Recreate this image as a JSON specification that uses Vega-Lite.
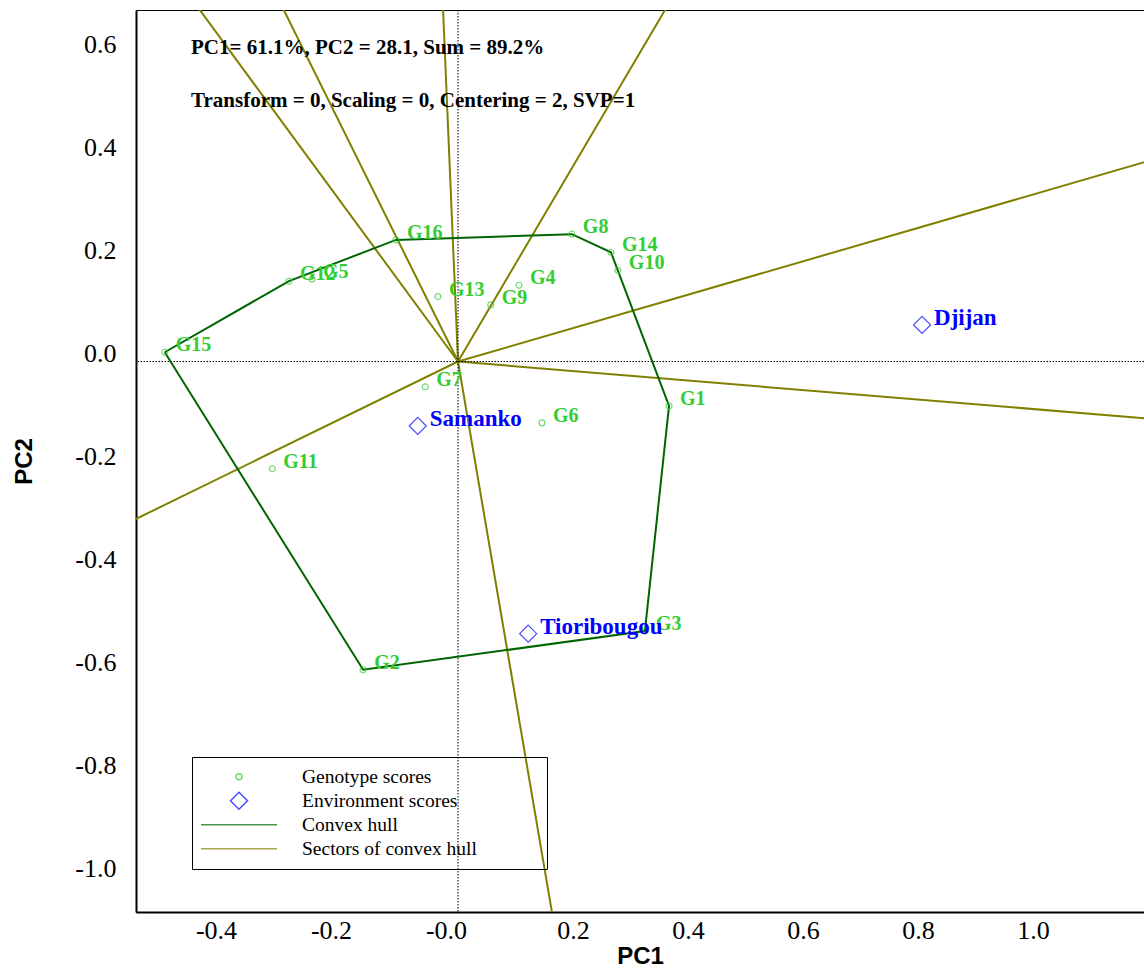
{
  "$schema": "https://vega.github.io/schema/vega-lite/v6.json",
  "width": 1008,
  "height": 902,
  "autosize": {"type": "none"},
  "padding": {"left": 136, "top": 10, "right": 0, "bottom": 56},
  "background": "white",
  "config": {
    "view": {"stroke": "#000", "strokeWidth": 1},
    "axis": {
      "grid": false,
      "ticks": false,
      "domainColor": "#000",
      "domainWidth": 2,
      "labelFont": "Liberation Serif",
      "labelFontSize": 26,
      "labelColor": "#000",
      "titleFont": "Liberation Sans",
      "titleFontWeight": "bold",
      "titleFontSize": 24,
      "titleColor": "#000"
    },
    "legend": {
      "labelFont": "Liberation Serif",
      "labelFontSize": 19.5,
      "labelColor": "#000",
      "labelLimit": 600,
      "symbolSize": 5776,
      "symbolStrokeWidth": 1.5,
      "clipHeight": 23.5,
      "rowPadding": 0,
      "labelOffset": 24,
      "padding": 8,
      "strokeColor": "#000"
    }
  },
  "datasets": {
    "genotypes": [
      {"label": "G1", "x": 0.367, "y": -0.086},
      {"label": "G2", "x": -0.165, "y": -0.598},
      {"label": "G3", "x": 0.325, "y": -0.523},
      {"label": "G4", "x": 0.106, "y": 0.148},
      {"label": "G5", "x": -0.254, "y": 0.160},
      {"label": "G6", "x": 0.146, "y": -0.119},
      {"label": "G7", "x": -0.057, "y": -0.049},
      {"label": "G8", "x": 0.198, "y": 0.247},
      {"label": "G9", "x": 0.057, "y": 0.110},
      {"label": "G10", "x": 0.278, "y": 0.177},
      {"label": "G11", "x": -0.323, "y": -0.208},
      {"label": "G12", "x": -0.294, "y": 0.156},
      {"label": "G13", "x": -0.035, "y": 0.126},
      {"label": "G14", "x": 0.266, "y": 0.212},
      {"label": "G15", "x": -0.510, "y": 0.018},
      {"label": "G16", "x": -0.108, "y": 0.236}
    ],
    "environments": [
      {"label": "Djijan", "x": 0.807, "y": 0.071},
      {"label": "Samanko", "x": -0.070, "y": -0.125},
      {"label": "Tioribougou", "x": 0.122, "y": -0.528}
    ],
    "hull": [
      {"order": 1, "x": -0.510, "y": 0.018},
      {"order": 2, "x": -0.294, "y": 0.156},
      {"order": 3, "x": -0.108, "y": 0.236},
      {"order": 4, "x": 0.198, "y": 0.247},
      {"order": 5, "x": 0.266, "y": 0.212},
      {"order": 6, "x": 0.367, "y": -0.086},
      {"order": 7, "x": 0.325, "y": -0.523},
      {"order": 8, "x": -0.165, "y": -0.598},
      {"order": 9, "x": -0.510, "y": 0.018}
    ],
    "rays": [
      {"ray": "R1", "x": 0, "y": 0}, {"ray": "R1", "x": -0.6735, "y": 1.023},
      {"ray": "R2", "x": 0, "y": 0}, {"ray": "R2", "x": -0.4545, "y": 1.023},
      {"ray": "R3", "x": 0, "y": 0}, {"ray": "R3", "x": -0.039, "y": 1.023},
      {"ray": "R4", "x": 0, "y": 0}, {"ray": "R4", "x": 0.54, "y": 1.023},
      {"ray": "R5", "x": 0, "y": 0}, {"ray": "R5", "x": 1.79, "y": 0.58},
      {"ray": "R6", "x": 0, "y": 0}, {"ray": "R6", "x": 1.79, "y": -0.165},
      {"ray": "R7", "x": 0, "y": 0}, {"ray": "R7", "x": 0.245, "y": -1.602},
      {"ray": "R8", "x": 0, "y": 0}, {"ray": "R8", "x": -0.84, "y": -0.458}
    ],
    "notes": [
      {"text": "PC1= 61.1%, PC2 = 28.1, Sum = 89.2%", "x": -0.4643, "y": 0.608},
      {"text": "Transform = 0, Scaling = 0, Centering = 2, SVP=1", "x": -0.4643, "y": 0.505}
    ],
    "legendItems": [
      {"series": "Genotype scores"},
      {"series": "Environment scores"},
      {"series": "Convex hull"},
      {"series": "Sectors of convex hull"}
    ]
  },
  "layer": [
    {
      "data": {"name": "rays"},
      "mark": {"type": "line", "color": "#808000", "strokeWidth": 2, "clip": true},
      "encoding": {
        "x": {
          "field": "x", "type": "quantitative",
          "scale": {"domain": [-0.56, 1.193], "nice": false, "zero": false},
          "axis": {
            "title": "PC1",
            "values": [-0.4, -0.2, 0, 0.2, 0.4, 0.6, 0.8, 1.0],
            "labelExpr": "datum.value == 0 ? '-0.0' : replace(format(datum.value, '.1f'), '\u2212', '-')",
            "labelPadding": 5,
            "titlePadding": 1,
            "labelOffset": {"condition": {"test": "datum.value <= 0", "value": -12}, "value": 0}
          }
        },
        "y": {
          "field": "y", "type": "quantitative",
          "scale": {"domain": [-1.068, 0.682], "nice": false, "zero": false},
          "axis": {
            "title": "PC2",
            "values": [0.6, 0.4, 0.2, 0, -0.2, -0.4, -0.6, -0.8, -1.0],
            "labelExpr": "replace(format(datum.value, '.1f'), '\u2212', '-')",
            "labelPadding": 20,
            "labelOffset": -8,
            "titlePadding": 38
          }
        },
        "detail": {"field": "ray", "type": "nominal"}
      }
    },
    {
      "data": {"values": [{"v": 0}]},
      "mark": {"type": "rule", "color": "#000", "strokeWidth": 1, "strokeDash": [1.5, 1.5]},
      "encoding": {
        "x": {"field": "v", "type": "quantitative", "scale": {"domain": [-0.56, 1.193], "nice": false, "zero": false}}
      }
    },
    {
      "data": {"values": [{"v": 0}]},
      "mark": {"type": "rule", "color": "#000", "strokeWidth": 1, "strokeDash": [1.5, 1.5]},
      "encoding": {
        "y": {"field": "v", "type": "quantitative", "scale": {"domain": [-1.068, 0.682], "nice": false, "zero": false}}
      }
    },
    {
      "data": {"name": "hull"},
      "mark": {"type": "line", "color": "#006400", "strokeWidth": 2},
      "encoding": {
        "x": {"field": "x", "type": "quantitative", "scale": {"domain": [-0.56, 1.193], "nice": false, "zero": false}},
        "y": {"field": "y", "type": "quantitative", "scale": {"domain": [-1.068, 0.682], "nice": false, "zero": false}},
        "order": {"field": "order", "type": "quantitative"}
      }
    },
    {
      "data": {"name": "genotypes"},
      "mark": {"type": "point", "shape": "circle", "filled": false, "size": 36, "color": "#33cc33", "strokeWidth": 1.2},
      "encoding": {
        "x": {"field": "x", "type": "quantitative", "scale": {"domain": [-0.56, 1.193], "nice": false, "zero": false}},
        "y": {"field": "y", "type": "quantitative", "scale": {"domain": [-1.068, 0.682], "nice": false, "zero": false}}
      }
    },
    {
      "data": {"name": "genotypes"},
      "mark": {"type": "text", "align": "left", "baseline": "middle", "dx": 11, "dy": -7, "font": "Liberation Serif", "fontWeight": "bold", "fontSize": 20, "color": "#33cc33"},
      "encoding": {
        "x": {"field": "x", "type": "quantitative", "scale": {"domain": [-0.56, 1.193], "nice": false, "zero": false}},
        "y": {"field": "y", "type": "quantitative", "scale": {"domain": [-1.068, 0.682], "nice": false, "zero": false}},
        "text": {"field": "label", "type": "nominal"}
      }
    },
    {
      "data": {"name": "environments"},
      "mark": {"type": "point", "shape": "diamond", "filled": false, "size": 290, "color": "#0000ff", "strokeWidth": 1.2},
      "encoding": {
        "x": {"field": "x", "type": "quantitative", "scale": {"domain": [-0.56, 1.193], "nice": false, "zero": false}},
        "y": {"field": "y", "type": "quantitative", "scale": {"domain": [-1.068, 0.682], "nice": false, "zero": false}}
      }
    },
    {
      "data": {"name": "environments"},
      "mark": {"type": "text", "align": "left", "baseline": "middle", "dx": 12, "dy": -7, "font": "Liberation Serif", "fontWeight": "bold", "fontSize": 23, "color": "#0000ff"},
      "encoding": {
        "x": {"field": "x", "type": "quantitative", "scale": {"domain": [-0.56, 1.193], "nice": false, "zero": false}},
        "y": {"field": "y", "type": "quantitative", "scale": {"domain": [-1.068, 0.682], "nice": false, "zero": false}},
        "text": {"field": "label", "type": "nominal"}
      }
    },
    {
      "data": {"name": "notes"},
      "mark": {"type": "text", "align": "left", "baseline": "middle", "font": "Liberation Serif", "fontWeight": "bold", "fontSize": 21, "color": "#000"},
      "encoding": {
        "x": {"field": "x", "type": "quantitative", "scale": {"domain": [-0.56, 1.193], "nice": false, "zero": false}},
        "y": {"field": "y", "type": "quantitative", "scale": {"domain": [-1.068, 0.682], "nice": false, "zero": false}},
        "text": {"field": "text", "type": "nominal"}
      }
    },
    {
      "data": {"name": "legendItems"},
      "transform": [{"filter": "false"}],
      "mark": {"type": "point", "filled": false, "size": 5776, "strokeWidth": 1.5},
      "encoding": {
        "color": {
          "field": "series", "type": "nominal",
          "scale": {
            "domain": ["Genotype scores", "Environment scores", "Convex hull", "Sectors of convex hull"],
            "range": ["#33cc33", "#0000ff", "#006400", "#808000"]
          },
          "legend": {
            "title": "\u00a0",
            "titleOrient": "right",
            "titlePadding": 62,
            "orient": "none",
            "legendX": 56,
            "legendY": 747,
            "strokeColor": "#000",
            "padding": 8,
            "labelOffset": 24,
            "labelLimit": 600,
            "clipHeight": 23.5,
            "rowPadding": 0,
            "symbolSize": 5776,
            "symbolStrokeWidth": 1.5
          }
        },
        "shape": {
          "field": "series", "type": "nominal",
          "scale": {
            "domain": ["Genotype scores", "Environment scores", "Convex hull", "Sectors of convex hull"],
            "range": [
              "M0.08,0A0.08,0.08,0,1,1,-0.08,0A0.08,0.08,0,1,1,0.08,0Z",
              "M0,-0.224L0.224,0L0,0.224L-0.224,0Z",
              "M-1,0L1,0",
              "M-1,0L1,0"
            ]
          },
          "legend": {
            "title": "\u00a0",
            "titleOrient": "right",
            "titlePadding": 62,
            "orient": "none",
            "legendX": 56,
            "legendY": 747,
            "strokeColor": "#000",
            "padding": 8,
            "labelOffset": 24,
            "labelLimit": 600,
            "clipHeight": 23.5,
            "rowPadding": 0,
            "symbolSize": 5776,
            "symbolStrokeWidth": 1.5
          }
        }
      }
    }
  ]
}
